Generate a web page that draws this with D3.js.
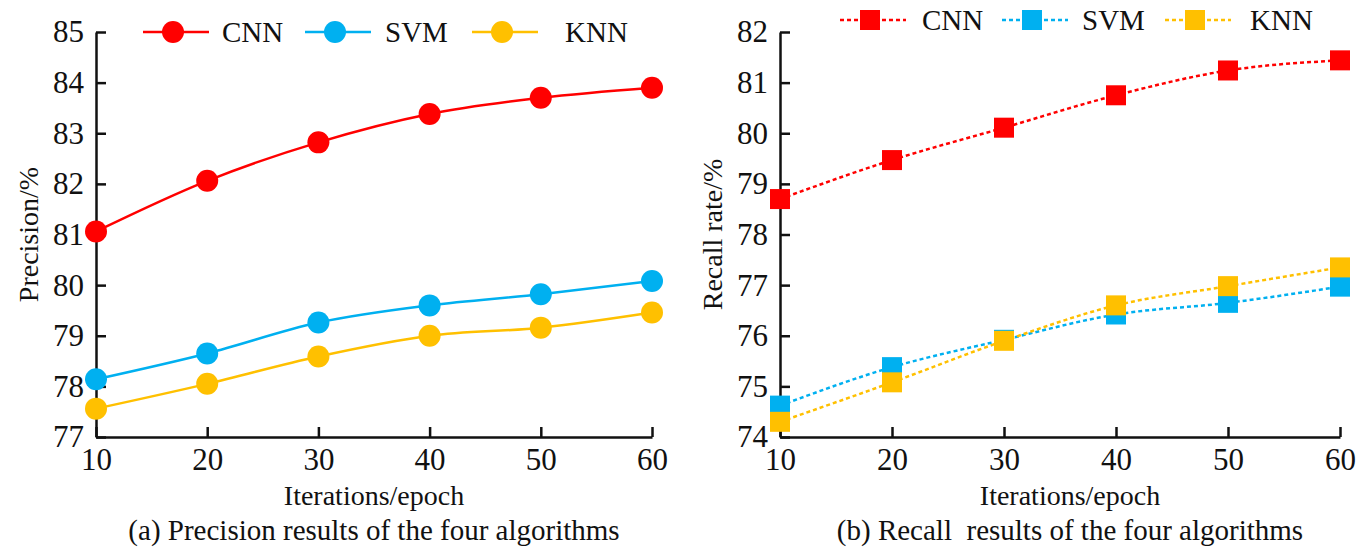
<!DOCTYPE html>
<html>
<head>
<meta charset="utf-8">
<title>Precision and recall</title>
<script src="https://cdn.jsdelivr.net/npm/d3@7/dist/d3.min.js"></script>
<style>
  body { margin: 0; background: #fff; }
  svg text { font-family: "Liberation Serif", "Times New Roman", serif; fill: #111; white-space: pre; }
</style>
</head>
<body>
<div class="d3-viz"></div>
<script>
 var epochs = [10, 20, 30, 40, 50, 60];
 var seriesNames = ["CNN", "SVM", "KNN"];
 var colors = ["#ff0000", "#00b0f0", "#ffc000"];

 var precisionCNN = [81.06, 82.06, 82.82, 83.38, 83.70, 83.90];
 var precisionSVM = [78.14, 78.65, 79.26, 79.60, 79.82, 80.08];
 var precisionKNN = [77.56, 78.05, 78.59, 79.00, 79.16, 79.46];

 var recallCNN = [78.70, 79.47, 80.11, 80.75, 81.24, 81.44];
 var recallSVM = [74.62, 75.38, 75.92, 76.42, 76.65, 76.97];
 var recallKNN = [74.30, 75.08, 75.90, 76.60, 76.98, 77.35];

 var precisionTicks = [77, 78, 79, 80, 81, 82, 83, 84, 85];
 var recallTicks = [74, 75, 76, 77, 78, 79, 80, 81, 82];

 var width = 1372, height = 550;
 var svg = d3.select(".d3-viz").append("svg")
     .attr("width", width).attr("height", height);

 var panels = [
   { left: 96, right: 652, yDomain: [77, 85], ticks: precisionTicks,
     data: [precisionCNN, precisionSVM, precisionKNN], marker: "circle", dashed: false,
     yTitle: "Precision/%", yTitleX: 28, caption: "(a) Precision results of the four algorithms",
     legendY: 32, legendX: [143, 305, 472], legendText: [222, 385, 565], titleShift: 0 },
   { left: 780, right: 1340, yDomain: [74, 82], ticks: recallTicks,
     data: [recallCNN, recallSVM, recallKNN], marker: "square", dashed: true,
     yTitle: "Recall rate/%", yTitleX: 712, caption: "(b) Recall  results of the four algorithms",
     legendY: 20, legendX: [840, 1002, 1165], legendText: [922, 1082, 1250], titleShift: 10 }
 ];

 var plotTop = 32, plotBottom = 437;

 panels.forEach(function(p) {
   var g = svg.append("g");
   var x = d3.scaleLinear().domain([10, 60]).range([p.left, p.right]);
   var y = d3.scaleLinear().domain(p.yDomain).range([plotBottom, plotTop]);

   // axes, ticks point inward
   var xAxis = g.append("g").attr("transform", "translate(0," + plotBottom + ")")
       .call(d3.axisBottom(x).tickValues(epochs).tickSizeInner(-10).tickSizeOuter(0).tickPadding(10));
   var yAxis = g.append("g").attr("transform", "translate(" + p.left + ",0)")
       .call(d3.axisLeft(y).tickValues(p.ticks).tickSizeInner(-10).tickSizeOuter(0).tickPadding(12));
   [xAxis, yAxis].forEach(function(a) {
     a.select(".domain").attr("stroke", "#111").attr("stroke-width", 2.5);
     a.selectAll(".tick line").attr("stroke", "#111").attr("stroke-width", 2.5);
     a.selectAll(".tick text").style("font-family", "Liberation Serif").style("font-size", "31px").attr("fill", "#111");
   });
   xAxis.selectAll(".tick text").attr("dy", "0.75em");

   // lines
   var line = d3.line().x(function(d, i) { return x(epochs[i]); })
       .y(function(d) { return y(d); }).curve(d3.curveMonotoneX);

   p.data.forEach(function(vals, s) {
     g.append("path").datum(vals).attr("d", line)
       .attr("fill", "none").attr("stroke", colors[s])
       .attr("stroke-width", 2.5)
       .attr("stroke-dasharray", p.dashed ? "4,3" : null);
   });
   p.data.forEach(function(vals, s) {
     var pts = g.selectAll(".pt" + s).data(vals).enter();
     if (p.marker === "circle") {
       pts.append("circle").attr("cx", function(d, i) { return x(epochs[i]); })
         .attr("cy", function(d) { return y(d); }).attr("r", 11).attr("fill", colors[s]);
     } else {
       pts.append("rect").attr("x", function(d, i) { return x(epochs[i]) - 10; })
         .attr("y", function(d) { return y(d) - 10; }).attr("width", 20).attr("height", 20)
         .attr("fill", colors[s]);
     }
   });

   // legend
   seriesNames.forEach(function(name, s) {
     var lx = p.legendX[s], ly = p.legendY;
     g.append("line").attr("x1", lx).attr("x2", lx + 66).attr("y1", ly).attr("y2", ly)
       .attr("stroke", colors[s]).attr("stroke-width", 2.5)
       .attr("stroke-dasharray", p.dashed ? "4,3" : null);
     if (p.marker === "circle") {
       g.append("circle").attr("cx", lx + 30).attr("cy", ly).attr("r", 11).attr("fill", colors[s]);
     } else {
       g.append("rect").attr("x", lx + 20).attr("y", ly - 10).attr("width", 20).attr("height", 20).attr("fill", colors[s]);
     }
     g.append("text").attr("x", p.legendText[s]).attr("y", ly).attr("dy", "0.35em")
       .style("font-size", "29px").text(name);
   });

   // titles
   g.append("text").attr("transform", "translate(" + p.yTitleX + "," + ((plotTop + plotBottom) / 2) + ") rotate(-90)")
     .attr("text-anchor", "middle").attr("dy", "0.35em").style("font-size", "28px").text(p.yTitle);
   g.append("text").attr("x", (p.left + p.right) / 2 + p.titleShift).attr("y", 495).attr("dy", "0.35em")
     .attr("text-anchor", "middle").style("font-size", "28px").text("Iterations/epoch");
   g.append("text").attr("x", (p.left + p.right) / 2 + p.titleShift).attr("y", 530).attr("dy", "0.35em")
     .attr("text-anchor", "middle").style("font-size", "29px").text(p.caption);
 });
</script>
</body>
</html>
